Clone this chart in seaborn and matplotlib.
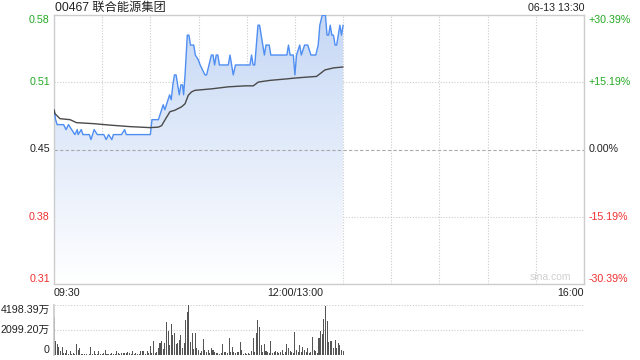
import numpy as np
import pandas as pd
import matplotlib
matplotlib.use("Agg")
import matplotlib.pyplot as plt
import matplotlib.transforms as mtransforms
from matplotlib.colors import LinearSegmentedColormap
import seaborn as sns

# ---------------- data ----------------
title = "00467 联合能源集团"
stamp = "06-13 13:30"
prev_close = 0.445
tick_pcts = [0.3039, 0.1519, 0.0, -0.1519, -0.3039]
price_labels = ["0.58", "0.51", "0.45", "0.38", "0.31"]
pct_labels = ["+30.39%", "+15.19%", "0.00%", "-15.19%", "-30.39%"]
x_label_pos = [0, 150, 330]
x_labels = ["09:30", "12:00/13:00", "16:00"]
vol_ticks = [0, 2099.20, 4198.39]
vol_labels = ["0", "2099.20万", "4198.39万"]

price_min = [0, 1, 2, 5, 6, 7.5, 9, 11, 13, 14.5, 15, 17, 18, 22, 23, 25, 27, 31, 32.5, 34,
             36, 37, 42, 44, 45, 58, 60, 61, 65, 66, 68, 69, 71, 72, 73, 74, 75, 76, 77, 78,
             79, 80, 80.7, 81.6, 83, 84, 85, 87, 88, 89.9, 91, 94, 95, 96.5, 98, 99, 100, 101,
             102, 103, 108.5, 109.6, 111.6, 113, 122, 123, 124, 125, 127, 128, 129, 130, 131,
             132, 134, 135, 145, 146, 147, 149, 150, 151, 153, 154, 156, 158, 160, 163, 164.5,
             165.5, 167, 169, 170, 171, 172, 173, 174, 175, 176, 177, 178, 179, 180]
price_val = [0.485, 0.475, 0.47, 0.47, 0.47, 0.465, 0.47, 0.465, 0.46, 0.465, 0.46, 0.465, 0.46,
             0.46, 0.455, 0.465, 0.46, 0.46, 0.455, 0.46, 0.455, 0.46, 0.46, 0.465, 0.46, 0.46,
             0.46, 0.475, 0.475, 0.48, 0.49, 0.485, 0.495, 0.50, 0.495, 0.51, 0.52, 0.52, 0.51,
             0.50, 0.51, 0.51, 0.50, 0.52, 0.56, 0.56, 0.55, 0.55, 0.54, 0.535, 0.53, 0.52, 0.52,
             0.53, 0.54, 0.54, 0.53, 0.54, 0.54, 0.53, 0.53, 0.54, 0.52, 0.53, 0.53, 0.54, 0.53,
             0.53, 0.57, 0.57, 0.56, 0.55, 0.54, 0.55, 0.55, 0.54, 0.54, 0.55, 0.54, 0.54, 0.52,
             0.54, 0.55, 0.54, 0.55, 0.55, 0.54, 0.54, 0.55, 0.57, 0.58, 0.58, 0.56, 0.56, 0.57,
             0.56, 0.56, 0.55, 0.55, 0.56, 0.57, 0.56, 0.57]

avg_min = [0, 0.6, 3.7, 10, 14, 24.5, 35, 47.3, 59.8, 65, 67, 69, 72.2, 75.3, 79.5, 81.6, 83.6,
           85.7, 87.8, 98.2, 108.5, 118.9, 124.1, 127.2, 134.5, 144.9, 151.1, 163.5, 168.7,
           173.9, 180]
avg_val = [0.485, 0.481, 0.476, 0.475, 0.472, 0.471, 0.4695, 0.468, 0.467, 0.4675, 0.469,
           0.4745, 0.483, 0.4845, 0.488, 0.491, 0.4995, 0.503, 0.5045, 0.506, 0.508, 0.509,
           0.509, 0.5128, 0.5145, 0.516, 0.517, 0.5185, 0.525, 0.527, 0.528]

volume = [3200, 1150, 900, 650, 350, 700, 200, 150, 450, 100,
          300, 100, 150, 50, 920, 400, 600, 100, 100, 80,
          50, 40, 50, 650, 100, 300, 50, 80, 350, 80,
          100, 150, 400, 50, 80, 100, 150, 100, 50, 300,
          150, 100, 200, 150, 200, 150, 250, 200, 100, 300,
          50, 150, 100, 100, 300, 300, 350, 100, 350, 150,
          790, 150, 1180, 150, 220, 600, 980, 1180, 500, 980,
          2750, 2050, 840, 2600, 1680, 1880, 900, 980, 1260, 1680,
          560, 980, 2940, 3640, 4198.39, 1060, 1820, 500, 1820, 600,
          420, 200, 300, 1340, 420, 250, 420, 200, 620, 420,
          250, 150, 200, 100, 150, 900, 250, 250, 200, 1460,
          250, 700, 250, 150, 250, 250, 1120, 420, 100, 150,
          50, 150, 100, 340, 1400, 250, 1820, 2940, 2320, 840,
          250, 900, 340, 250, 150, 1180, 150, 250, 340, 250,
          150, 250, 420, 100, 250, 900, 560, 340, 250, 200,
          1960, 420, 250, 840, 250, 700, 420, 250, 560, 150,
          250, 1540, 420, 340, 150, 1400, 2020, 1740, 3020, 4150,
          2880, 1060, 1180, 1180, 560, 1260, 560, 980, 840, 420, 300]

# ---------------- style ----------------
sns.set_theme(style="white")
plt.rcParams["font.family"] = ["Liberation Sans", "Noto Sans CJK SC", "DejaVu Sans"]

GREEN = "#23a823"
RED = "#f03030"
DARK = "#222222"
BLUE = "#4f8ef2"
GRID = "#cccccc"

fig = plt.figure(figsize=(6.4, 3.6), dpi=100)
W, H = 640, 360
ax = fig.add_axes([54 / W, 1 - 284 / H, 530 / W, 269 / H])
axv = fig.add_axes([54 / W, 1 - 355 / H, 530 / W, 50 / H])

tick_prices = [prev_close * (1 + p) for p in tick_pcts]
ymin, ymax = tick_prices[-1], tick_prices[0]

df_p = pd.DataFrame({"minute": price_min, "price": price_val})
df_a = pd.DataFrame({"minute": avg_min, "avg": avg_val})

# gradient fill under price line
poly = ax.fill_between(df_p["minute"], df_p["price"], ymin, color="none", lw=0)
cmap = LinearSegmentedColormap.from_list("g", ["#ffffff", "#c6d8f5"])
grad = np.linspace(0, 1, 256).reshape(-1, 1)
im = ax.imshow(grad, aspect="auto", cmap=cmap, origin="lower",
               extent=[0, 330, ymin, ymax], zorder=1)
im.set_clip_path(poly.get_paths()[0], transform=ax.transData)

sns.lineplot(data=df_p, x="minute", y="price", ax=ax, color=BLUE, lw=1.0, zorder=3, sort=False)
sns.lineplot(data=df_a, x="minute", y="avg", ax=ax, color="#4a4a4a", lw=1.0, zorder=3, sort=False)

ax.set_xlim(0, 330)
ax.set_ylim(ymin, ymax)
ax.set_xticks(range(0, 331, 30))
ax.set_yticks([tick_prices[1], tick_prices[3]])
ax.grid(True, color=GRID, ls=(0, (1, 1.5)), lw=0.8)
ax.axhline(prev_close, color="#aaaaaa", ls=(0, (3, 2)), lw=0.8, zorder=2)
ax.tick_params(length=0, labelbottom=False, labelleft=False)
ax.set_xlabel("")
ax.set_ylabel("")
for s in ax.spines.values():
    s.set_color(GRID)
    s.set_linewidth(1.0)

tr = mtransforms.blended_transform_factory(ax.transAxes, ax.transData)
colors = [GREEN, GREEN, DARK, RED, RED]
vas = ["top", "center", "center", "center", "bottom"]
for yp, lab, plab, c, va in zip(tick_prices, price_labels, pct_labels, colors, vas):
    ax.text(-0.008, yp, lab, transform=tr, ha="right", va=va, color=c, fontsize=7.7)
    ax.text(1.009, yp, plab, transform=tr, ha="left", va=va, color=c, fontsize=7.7)

trx = mtransforms.blended_transform_factory(ax.transData, ax.transAxes)
for xp, lab, ha in zip(x_label_pos, x_labels, ["left", "center", "right"]):
    ax.text(xp, -0.033, lab, transform=trx, ha=ha, va="center", color=DARK, fontsize=7.7)

fig.text(55 / W, 1 - 8 / H, title, ha="left", va="center", color=DARK, fontsize=8.8)
fig.text(584 / W, 1 - 8 / H, stamp, ha="right", va="center", color=DARK, fontsize=7.7)
ax.text(0.975, 0.008, "sina.com", transform=ax.transAxes, ha="right", va="bottom",
        color="#d0d0d0", fontsize=7.5)

# volume
df_v = pd.DataFrame({"minute": np.arange(len(volume)), "vol": volume})
sns.barplot(data=df_v, x="minute", y="vol", ax=axv, native_scale=True, color="#555555",
            width=0.65, saturation=1, linewidth=0, errorbar=None)
axv.set_xlim(0, 330)
axv.set_ylim(0, vol_ticks[-1])
for v in vol_ticks:
    axv.axhline(v, color=GRID, ls=(0, (1, 1.5)), lw=0.8, zorder=0)
axv.set_xticks([])
axv.set_yticks([])
axv.set_xlabel("")
axv.set_ylabel("")
for k, s in axv.spines.items():
    s.set_visible(k == "left")
    s.set_color(GRID)
trv = mtransforms.blended_transform_factory(axv.transAxes, axv.transData)
for v, lab, va in zip(vol_ticks, vol_labels, ["bottom", "center", "top"]):
    axv.text(-0.008, v, lab, transform=trv, ha="right", va=va, color=DARK, fontsize=7.7)

fig.savefig("out.png", dpi=100)
